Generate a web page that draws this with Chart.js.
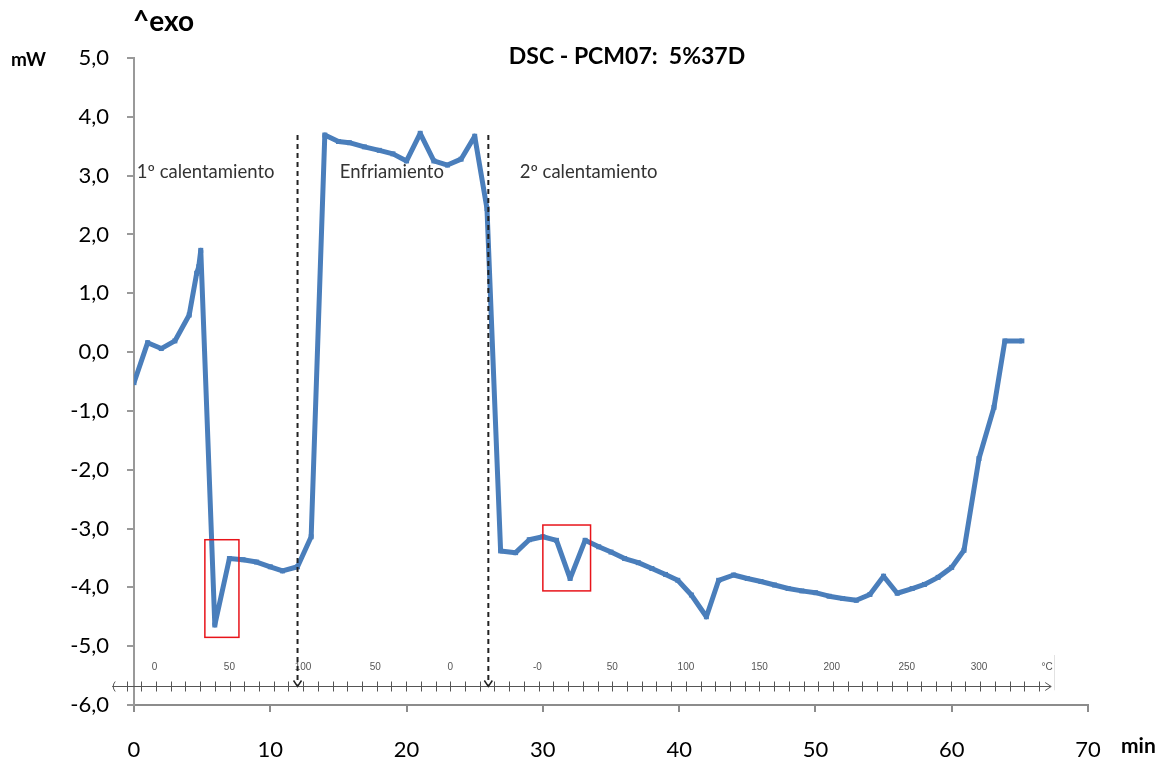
<!DOCTYPE html>
<html>
<head>
<meta charset="utf-8">
<script src="https://cdn.jsdelivr.net/npm/chart.js@4.4.0/dist/chart.umd.min.js"></script>
<style>
  html, body { margin: 0; padding: 0; background: #fff; }
</style>
</head>
<body>
<canvas id="dscChart" width="1174" height="762"></canvas>
<script>
// DSC curve: time in minutes, heat flow in mW
const timeMin = [0, 1.0, 2.0, 3.0, 4.05, 4.6, 4.75, 4.9, 5.93, 7.0, 8.0, 9.0, 10.0, 10.9, 12.0, 13.0,
  14.0, 15.0, 15.8, 16.9, 18.0, 19.0, 20.0, 21.0, 22.0, 23.0, 24.0, 25.0, 25.9,
  26.9, 28.0, 29.0, 30.0, 31.0, 32.0, 33.1, 34.1, 35.0, 36.0, 37.0, 38.0, 39.0, 39.9, 40.9, 42.0,
  42.9, 44.0, 45.0, 46.0, 47.0, 48.0, 49.0, 50.0, 51.0, 52.0, 53.0, 54.0, 55.0, 56.0, 57.1, 58.0,
  59.0, 60.0, 60.9, 62.0, 63.1, 63.9, 65.15];
const heatFlow = [-0.52, 0.16, 0.06, 0.19, 0.63, 1.34, 1.45, 1.73, -4.64, -3.51, -3.53, -3.57, -3.65, -3.72, -3.65, -3.14,
  3.69, 3.58, 3.56, 3.49, 3.43, 3.37, 3.25, 3.72, 3.25, 3.18, 3.28, 3.67, 2.44,
  -3.38, -3.41, -3.19, -3.14, -3.20, -3.85, -3.20, -3.31, -3.40, -3.51, -3.58, -3.68, -3.78, -3.88, -4.13, -4.50,
  -3.88, -3.79, -3.85, -3.90, -3.96, -4.02, -4.06, -4.09, -4.15, -4.19, -4.22, -4.12, -3.81, -4.10, -4.02, -3.95,
  -3.83, -3.66, -3.37, -1.81, -0.94, 0.19, 0.19];

// segment labels and the dashed separators (minutes)
const segmentNames = ['1º calentamiento', 'Enfriamiento', '2º calentamiento'];
const segmentStart = [0.2, 15.1, 28.3];
const separatorMin = [12.0, 26.0];

// red boxes around the small peaks: [from min, to min, top mW, bottom mW]
const boxes = [[5.2, 7.7, -3.19, -4.85], [30.0, 33.5, -2.94, -4.06]];

// temperature scale printed under the curve
const tempLabels = ['0', '50', '100', '50', '0', '-0', '50', '100', '150', '200', '250', '300'];
const tempLabelMin = [1.5, 7.0, 12.4, 17.7, 23.2, 29.6, 35.1, 40.5, 45.9, 51.2, 56.7, 62.0];

const points = timeMin.map((t, i) => ({ x: t, y: heatFlow[i] }));

const fontFam = 'Lato, "Open Sans", sans-serif';

// draws the extra texts, separators, boxes and the temperature scale
const overlay = {
  id: 'overlay',
  afterDraw(chart) {
    const ctx = chart.ctx;
    const xs = chart.scales.x;
    const ys = chart.scales.y;
    const area = chart.chartArea;
    const snap = v => Math.round(v) + 0.5;
    ctx.save();

    // header texts
    ctx.fillStyle = '#000';
    ctx.textBaseline = 'middle';
    ctx.textAlign = 'left';
    ctx.font = 'bold 28px ' + fontFam;
    ctx.fillText('^exo', area.left - 1, 22);
    ctx.font = 'bold 19px ' + fontFam;
    ctx.fillText('mW', 11, 60);
    ctx.textAlign = 'center';
    ctx.font = 'bold 23px ' + fontFam;
    ctx.fillText('DSC - PCM07:  5%37D', 627, 57);
    ctx.textAlign = 'left';
    ctx.font = 'bold 21px ' + fontFam;
    ctx.fillText('min', 1121, 746);

    // segment names
    ctx.font = '18.5px ' + fontFam;
    ctx.fillStyle = '#333';
    segmentNames.forEach((s, i) => {
      ctx.fillText(s, xs.getPixelForValue(segmentStart[i]), ys.getPixelForValue(3.06));
    });

    // temperature scale
    const tAxis = snap(ys.getPixelForValue(-5.68));
    const tLab = ys.getPixelForValue(-5.36);
    const x0 = xs.getPixelForValue(-1.6);
    const x1 = xs.getPixelForValue(67.3);
    ctx.strokeStyle = '#e2e2e2';
    ctx.lineWidth = 1;
    ctx.beginPath();
    ctx.moveTo(snap(x1 + 3), ys.getPixelForValue(-5.15));
    ctx.lineTo(snap(x1 + 3), ys.getPixelForValue(-5.75));
    ctx.stroke();
    ctx.strokeStyle = '#555';
    ctx.lineWidth = 1;
    ctx.beginPath();
    ctx.moveTo(x0, tAxis);
    ctx.lineTo(x1, tAxis);
    ctx.moveTo(x1 - 6, tAxis - 4);
    ctx.lineTo(x1, tAxis);
    ctx.lineTo(x1 - 6, tAxis + 4);
    ctx.moveTo(x0 + 3, tAxis - 5);
    ctx.quadraticCurveTo(x0 - 1, tAxis, x0 + 3, tAxis + 5);
    ctx.stroke();
    ctx.beginPath();
    for (let m = -0.55; m < 66.5; m += 1.08) {
      const px = snap(xs.getPixelForValue(m));
      ctx.moveTo(px, tAxis - 5);
      ctx.lineTo(px, tAxis + 5);
    }
    ctx.stroke();
    ctx.fillStyle = '#555';
    ctx.font = '10px "Liberation Sans", sans-serif';
    ctx.textAlign = 'center';
    tempLabels.forEach((s, i) => {
      ctx.fillText(s, xs.getPixelForValue(tempLabelMin[i]), tLab);
    });
    ctx.fillText('°C', xs.getPixelForValue(67.0), tLab);

    // dashed separators with arrow heads on the temperature scale
    ctx.strokeStyle = '#222';
    ctx.lineWidth = 2;
    ctx.setLineDash([5, 4]);
    separatorMin.forEach(m => {
      const px = xs.getPixelForValue(m);
      ctx.beginPath();
      ctx.moveTo(px, ys.getPixelForValue(3.69));
      ctx.lineTo(px, tAxis - 2);
      ctx.stroke();
    });
    ctx.setLineDash([]);
    ctx.lineWidth = 1.5;
    separatorMin.forEach(m => {
      const px = xs.getPixelForValue(m);
      ctx.beginPath();
      ctx.moveTo(px - 4, tAxis - 6);
      ctx.lineTo(px, tAxis);
      ctx.lineTo(px + 4, tAxis - 6);
      ctx.stroke();
    });

    // red boxes
    ctx.strokeStyle = '#e8141a';
    ctx.lineWidth = 1.5;
    boxes.forEach(b => {
      const l = xs.getPixelForValue(b[0]);
      const r = xs.getPixelForValue(b[1]);
      const t = ys.getPixelForValue(b[2]);
      const btm = ys.getPixelForValue(b[3]);
      ctx.strokeRect(l, t, r - l, btm - t);
    });

    ctx.restore();
  }
};

const config = {
  type: 'line',
  data: {
    datasets: [{
      data: points,
      borderColor: '#4a7ebb',
      backgroundColor: '#4a7ebb',
      borderWidth: 5,
      borderJoinStyle: 'round',
      pointStyle: 'rect',
      pointRadius: 3.5,
      pointBorderWidth: 0,
      tension: 0,
      fill: false
    }]
  },
  options: {
    responsive: false,
    animation: false,
    devicePixelRatio: 1,
    layout: { padding: { left: 0, top: 58, right: 86, bottom: 0 } },
    plugins: {
      legend: { display: false },
      tooltip: { enabled: false }
    },
    scales: {
      x: {
        type: 'linear',
        min: 0,
        max: 70,
        ticks: {
          stepSize: 10,
          color: '#000',
          padding: 25,
          maxRotation: 0,
          font: { family: fontFam, size: 22 }
        },
        grid: { drawOnChartArea: false, tickLength: 7, color: '#8c8c8c', lineWidth: 2 },
        border: { color: '#8c8c8c', width: 2 },
        afterFit: s => { s.height = 57; }
      },
      y: {
        min: -6,
        max: 5,
        ticks: {
          stepSize: 1,
          color: '#000',
          padding: 18,
          font: { family: fontFam, size: 22 },
          callback: v => v.toFixed(1).replace('.', ',')
        },
        grid: { drawOnChartArea: false, tickLength: 7, color: '#999', lineWidth: 2 },
        border: { color: '#999', width: 2 },
        afterFit: s => { s.width = 134; }
      }
    }
  },
  plugins: [overlay]
};

const myChart = new Chart(document.getElementById('dscChart').getContext('2d'), config);
</script>
</body>
</html>
